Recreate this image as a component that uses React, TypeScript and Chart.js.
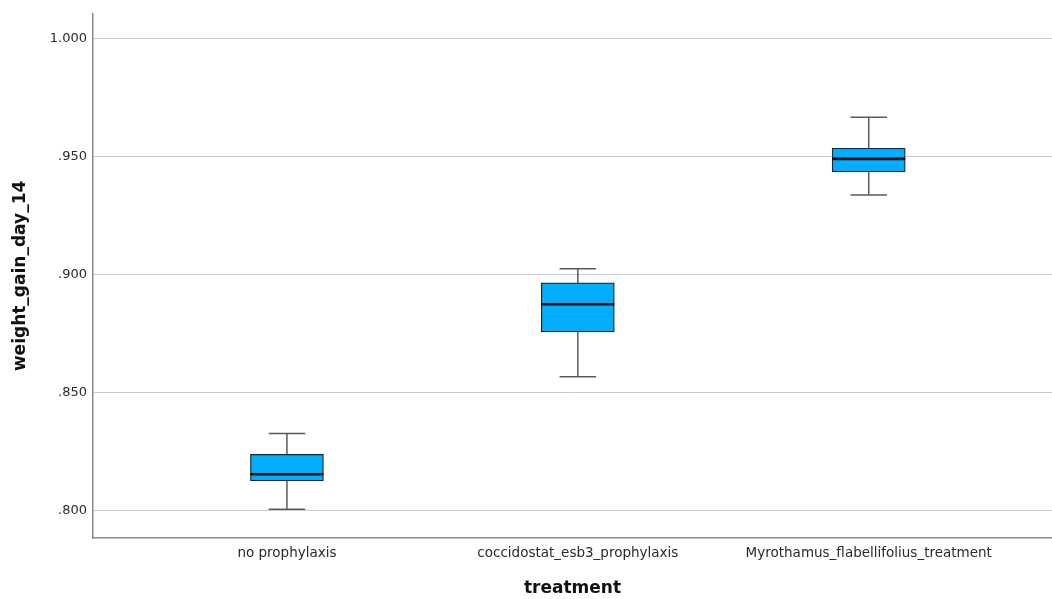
import React, { useEffect, useRef } from "react";
import { Chart, registerables } from "chart.js";

Chart.register(...registerables);

// Treatment groups and five-number summaries of weight gain at day 14
const categories = [
  "no prophylaxis",
  "coccidostat_esb3_prophylaxis",
  "Myrothamus_flabellifolius_treatment",
];
const whiskerLow = [0.8007, 0.8568, 0.9338];
const q1 = [0.8127, 0.8758, 0.9436];
const median = [0.8155, 0.8875, 0.9491];
const q3 = [0.8239, 0.8966, 0.9536];
const whiskerHigh = [0.8327, 0.9025, 0.9667];
const yTicks = [0.8, 0.85, 0.9, 0.95, 1.0];

// Draws whiskers (behind the boxes) and median lines (on top of the boxes)
const boxWhiskers = {
  id: "boxWhiskers",
  beforeDatasetsDraw(chart: any) {
    const { ctx } = chart;
    const x = chart.scales.x;
    const y = chart.scales.y;
    const meta = chart.getDatasetMeta(0);
    ctx.save();
    ctx.strokeStyle = "#5a5a5a";
    ctx.lineWidth = 1.5;
    categories.forEach((_, i) => {
      const bar = meta.data[i] as any;
      const cx = x.getPixelForValue(i + 1);
      const half = bar.width / 4;
      const yLo = y.getPixelForValue(whiskerLow[i]);
      const yHi = y.getPixelForValue(whiskerHigh[i]);
      ctx.beginPath();
      ctx.moveTo(cx, yLo);
      ctx.lineTo(cx, yHi);
      ctx.moveTo(cx - half, yLo);
      ctx.lineTo(cx + half, yLo);
      ctx.moveTo(cx - half, yHi);
      ctx.lineTo(cx + half, yHi);
      ctx.stroke();
    });
    ctx.restore();
  },
  afterDatasetsDraw(chart: any) {
    const { ctx } = chart;
    const x = chart.scales.x;
    const y = chart.scales.y;
    const meta = chart.getDatasetMeta(0);
    ctx.save();
    ctx.strokeStyle = "#111111";
    ctx.lineWidth = 2.6;
    categories.forEach((_, i) => {
      const bar = meta.data[i] as any;
      const cx = x.getPixelForValue(i + 1);
      const half = bar.width / 2;
      const ym = y.getPixelForValue(median[i]);
      ctx.beginPath();
      ctx.moveTo(cx - half, ym);
      ctx.lineTo(cx + half, ym);
      ctx.stroke();
    });
    ctx.restore();
  },
};

export default function App() {
  const canvasRef = useRef<HTMLCanvasElement | null>(null);

  useEffect(() => {
    if (!canvasRef.current) return;
    const chart = new Chart(canvasRef.current, {
      type: "bar",
      data: {
        datasets: [
          {
            data: categories.map((_, i) => ({ x: i + 1, y: [q1[i], q3[i]] })) as any,
            backgroundColor: "#00adff",
            borderColor: "#222222",
            borderWidth: 1.2,
            borderSkipped: false,
            barThickness: 73,
          },
        ],
      },
      options: {
        animation: false,
        responsive: false,
        layout: { padding: { top: 12, right: 0, left: 0, bottom: 0 } },
        plugins: {
          legend: { display: false },
          tooltip: { enabled: false },
        },
        scales: {
          x: {
            type: "linear",
            offset: false,
            min: 1 / 3,
            max: 3.63,
            grid: { display: false, drawTicks: false, offset: false },
            border: { display: true, color: "#8a8a8a", width: 1.5 },
            afterBuildTicks: (scale: any) => {
              scale.ticks = categories.map((_, i) => ({ value: i + 1 }));
            },
            afterFit: (scale: any) => {
              scale.height = 61;
            },
            ticks: {
              autoSkip: false,
              maxRotation: 0,
              padding: 7,
              color: "#2a2a2a",
              font: { family: "DejaVu Sans", size: 13.5 },
              callback: (v: any) => categories[Math.round(Number(v)) - 1] ?? "",
            },
            title: {
              display: true,
              text: "treatment",
              color: "#111111",
              padding: { top: 0, bottom: 0 },
              font: { family: "DejaVu Sans", size: 17, weight: "bold" },
            },
          },
          y: {
            min: 0.78847,
            max: 1.01056,
            grid: { color: "#c8c8c8", lineWidth: 1, drawTicks: false },
            border: { display: true, color: "#8a8a8a", width: 1.5 },
            afterBuildTicks: (scale: any) => {
              scale.ticks = yTicks.map((v) => ({ value: v }));
            },
            afterFit: (scale: any) => {
              scale.width = 93;
            },
            ticks: {
              padding: 6,
              color: "#2a2a2a",
              font: { family: "DejaVu Sans", size: 13 },
              callback: (v: any) => Number(v).toFixed(3).replace(/^0/, ""),
            },
            title: {
              display: true,
              text: "weight_gain_day_14",
              color: "#111111",
              padding: { top: 10, bottom: 0 },
              font: { family: "DejaVu Sans", size: 17, weight: "bold" },
            },
          },
        },
      } as any,
      plugins: [boxWhiskers],
    });
    return () => chart.destroy();
  }, []);

  return (
    <div style={{ position: "fixed", left: 0, top: 0, width: 1052, height: 599, background: "#ffffff" }}>
      <canvas ref={canvasRef} width={1052} height={599} />
    </div>
  );
}
